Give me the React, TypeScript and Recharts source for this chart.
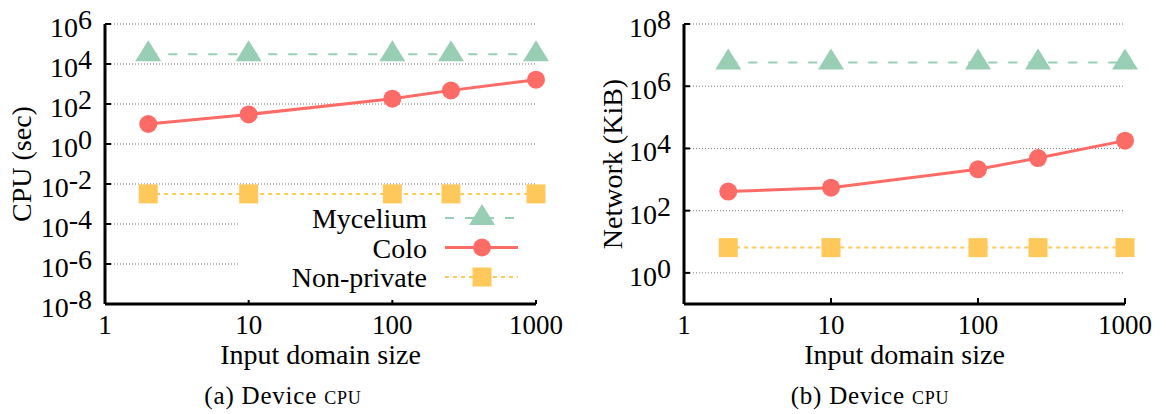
import React from 'react';
import { LineChart, Line, XAxis, YAxis, CartesianGrid, Legend } from 'recharts';

const FONT = '"Liberation Serif", "Times New Roman", serif';

// input domain sizes (x axis)
const sizes = [2, 10, 100, 256, 1000];
const xTicks = [1, 10, 100, 1000];

// (a) device CPU, seconds
const cpuMycelium = [31000, 31000, 31000, 31000, 31000];
const cpuColo = [10, 30, 185, 480, 1650];
const cpuNonPrivate = [0.0032, 0.0032, 0.0032, 0.0032, 0.0032];
const cpuTicks = [1e-8, 1e-6, 1e-4, 1e-2, 1, 1e2, 1e4, 1e6];

// (b) network, KiB
const netMycelium = [5.8e6, 5.8e6, 5.8e6, 5.8e6, 5.8e6];
const netColo = [410, 550, 2140, 4900, 17800];
const netNonPrivate = [6.5, 6.5, 6.5, 6.5, 6.5];
const netTicks = [1, 1e2, 1e4, 1e6, 1e8];

const SERIES = [
  { key: 'mycelium', name: 'Mycelium', color: '#98ceb4', dash: '9 11', width: 2, shape: 'triangle' },
  { key: 'colo', name: 'Colo', color: '#fc6b66', dash: undefined, width: 3, shape: 'circle' },
  { key: 'nonPrivate', name: 'Non-private', color: '#fec95a', dash: '4 4', width: 2, shape: 'square' },
];

const cpuData = sizes.map((s, i) => ({
  size: s,
  mycelium: cpuMycelium[i],
  colo: cpuColo[i],
  nonPrivate: cpuNonPrivate[i],
}));

const netData = sizes.map((s, i) => ({
  size: s,
  mycelium: netMycelium[i],
  colo: netColo[i],
  nonPrivate: netNonPrivate[i],
}));

function Marker({ shape, cx, cy, color }: { shape: string; cx: number; cy: number; color: string }) {
  if (shape === 'triangle') {
    return <polygon points={`${cx},${cy - 14} ${cx + 13},${cy + 7} ${cx - 13},${cy + 7}`} fill={color} />;
  }
  if (shape === 'circle') return <circle cx={cx} cy={cy} r={9} fill={color} />;
  return <rect x={cx - 9.5} y={cy - 9.5} width={19} height={19} fill={color} />;
}

function PowTick(props: any) {
  const { x, y, payload } = props;
  const exp = Math.round(Math.log10(payload.value));
  return (
    <text x={x} y={y + 13} textAnchor="end" fontFamily={FONT} fontSize={28} fill="#000">
      10<tspan dy={-8}>{exp}</tspan>
    </text>
  );
}

function SizeTick(props: any) {
  const { x, y, payload } = props;
  return (
    <text x={x} y={y + 30} textAnchor="middle" fontFamily={FONT} fontSize={27} fill="#000">
      {payload.value}
    </text>
  );
}

function ChartLegend() {
  return (
    <svg width={300} height={96}>
      {SERIES.map((s, i) => {
        const cy = 14 + i * 29.5;
        return (
          <g key={s.key}>
            <text x={187} y={cy + 10} textAnchor="end" fontFamily={FONT} fontSize={28} fill="#000">
              {s.name}
            </text>
            <line x1={205} x2={278} y1={cy} y2={cy} stroke={s.color} strokeWidth={s.width} strokeDasharray={s.dash} />
            <Marker shape={s.shape} cx={242} cy={cy} color={s.color} />
          </g>
        );
      })}
    </svg>
  );
}

interface PanelProps {
  data: Record<string, number>[];
  width: number;
  yAxisWidth: number;
  marginRight: number;
  yDomain: [number, number];
  yTicks: number[];
  yLabel: string;
  yLabelX: number;
  showLegend?: boolean;
}

function Panel({ data, width, yAxisWidth, marginRight, yDomain, yTicks, yLabel, yLabelX, showLegend }: PanelProps) {
  const plotCenter = yAxisWidth + (width - yAxisWidth - marginRight) / 2;
  return (
    <LineChart width={width} height={414} data={data} margin={{ top: 24, right: marginRight, bottom: 0, left: 0 }}>
      <CartesianGrid vertical={false} stroke="#777" strokeDasharray="1 2" />
      <XAxis
        dataKey="size"
        type="number"
        scale="log"
        domain={[1, 1000]}
        ticks={xTicks}
        height={110}
        axisLine={{ stroke: '#000', strokeWidth: 3 }}
        tickLine={{ stroke: '#000', strokeWidth: 2 }}
        tickSize={-6}
        tickMargin={6}
        tick={<SizeTick />}
        label={() => (
          <text x={plotCenter} y={364} textAnchor="middle" fontFamily={FONT} fontSize={28} fill="#000">
            Input domain size
          </text>
        )}
      />
      <YAxis
        type="number"
        scale="log"
        domain={yDomain}
        ticks={yTicks}
        width={yAxisWidth}
        axisLine={{ stroke: '#000', strokeWidth: 3 }}
        tickLine={{ stroke: '#000', strokeWidth: 2 }}
        tickSize={-6}
        tickMargin={19}
        tick={<PowTick />}
        label={() => (
          <text
            x={yLabelX}
            y={164}
            textAnchor="middle"
            dominantBaseline="central"
            transform={`rotate(-90, ${yLabelX}, 164)`}
            fontFamily={FONT}
            fontSize={28}
            fill="#000"
          >
            {yLabel}
          </text>
        )}
      />
      {showLegend && (
        <Legend
          layout="vertical"
          align="center"
          verticalAlign="middle"
          content={() => <ChartLegend />}
          wrapperStyle={{ left: 240, top: 204, width: 300, height: 96, backgroundColor: '#fff', margin: 0, padding: 0, lineHeight: 0 }}
        />
      )}
      {SERIES.map((s) => (
        <Line
          key={s.key}
          dataKey={s.key}
          name={s.name}
          type="linear"
          stroke={s.color}
          strokeWidth={s.width}
          strokeDasharray={s.dash}
          isAnimationActive={false}
          activeDot={false}
          dot={(p: any) => <Marker key={`${s.key}-${p.index}`} shape={s.shape} cx={p.cx} cy={p.cy} color={s.color} />}
        />
      ))}
    </LineChart>
  );
}

const captionStyle: React.CSSProperties = {
  position: 'absolute',
  top: 383,
  width: 300,
  textAlign: 'center',
  fontFamily: FONT,
  fontSize: 25,
  lineHeight: '25px',
  letterSpacing: 0.8,
  color: '#000',
};

export default function App() {
  return (
    <div style={{ position: 'absolute', left: 0, top: 0, width: 1166, height: 414, background: '#fff', overflow: 'hidden' }}>
      <div style={{ position: 'absolute', left: 0, top: 0 }}>
        <Panel
          data={cpuData}
          width={580}
          yAxisWidth={105}
          marginRight={44}
          yDomain={[1e-8, 1e6]}
          yTicks={cpuTicks}
          yLabel="CPU (sec)"
          yLabelX={21}
          showLegend
        />
      </div>
      <div style={{ position: 'absolute', left: 580, top: 0 }}>
        <Panel
          data={netData}
          width={586}
          yAxisWidth={104}
          marginRight={41}
          yDomain={[0.1, 1e8]}
          yTicks={netTicks}
          yLabel="Network (KiB)"
          yLabelX={32}
        />
      </div>
      <div style={{ ...captionStyle, left: 133 }}>
        (a) Device <span style={{ fontVariant: 'small-caps' }}>cpu</span>
      </div>
      <div style={{ ...captionStyle, left: 720 }}>
        (b) Device <span style={{ fontVariant: 'small-caps' }}>cpu</span>
      </div>
    </div>
  );
}
